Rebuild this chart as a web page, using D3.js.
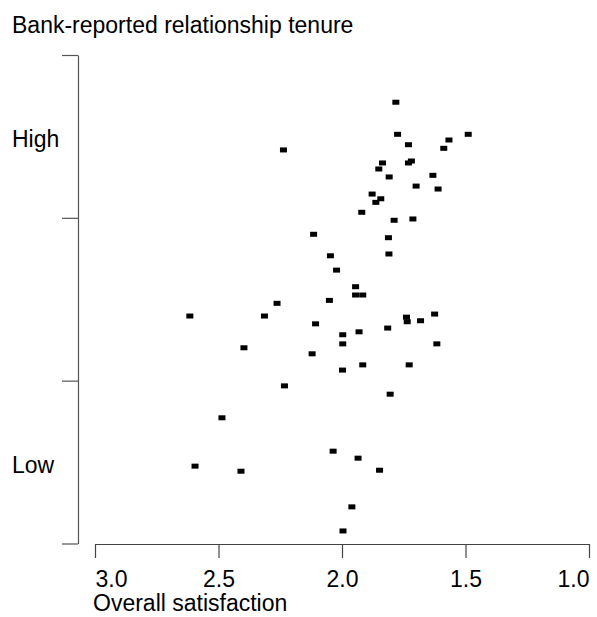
<!DOCTYPE html>
<html>
<head>
<meta charset="utf-8">
<script src="https://cdn.jsdelivr.net/npm/d3@7"></script>
<style>
	body { margin: 0; background: #fff; }
	text { font-family: "Liberation Sans", Arial, Helvetica, sans-serif; }
</style>
</head>
<body>
<div id="scatter"></div>
<script>
/**
 * Nuage de points : satisfaction globale vs anciennete de la relation.
 */

// Overall satisfaction (x) of each client
const satisfaction = [
	1.782, 1.775, 1.731, 1.489, 1.567, 1.588, 1.836, 1.731, 1.719, 1.851,
	1.809, 1.632, 1.700, 1.611, 1.878, 1.843, 1.863, 1.920, 1.789, 1.713,
	1.812, 2.237, 2.115, 2.047, 1.810, 2.022, 1.945, 1.945, 1.916, 2.051,
	2.263, 2.616, 2.314, 1.625, 1.739, 1.736, 1.682, 2.107, 1.815, 1.931,
	1.997, 1.997, 1.616, 2.397, 2.121, 1.916, 1.728, 1.998, 2.233, 1.805,
	2.486, 2.036, 1.935, 2.595, 2.409, 1.848, 1.960, 1.996
];
// Bank-reported relationship tenure (jittered level) of each client
const tenure = [
	2.710, 2.513, 2.449, 2.513, 2.478, 2.427, 2.337, 2.337, 2.349, 2.300,
	2.251, 2.261, 2.195, 2.177, 2.146, 2.117, 2.095, 2.034, 1.985, 1.993,
	1.878, 2.417, 1.899, 1.767, 1.778, 1.679, 1.577, 1.526, 1.526, 1.493,
	1.475, 1.397, 1.397, 1.409, 1.390, 1.362, 1.368, 1.349, 1.323, 1.300,
	1.282, 1.226, 1.226, 1.202, 1.165, 1.097, 1.097, 1.065, 0.968, 0.917,
	0.772, 0.567, 0.524, 0.475, 0.444, 0.450, 0.225, 0.077
];

const xTicks = [3.0, 2.5, 2.0, 1.5, 1.0];
const yTicks = [0, 1, 2, 3];
const levelNames = ["Low", "High"];
const levelValues = [0.5, 2.5];

(function (d3) {
	"use strict";

	const width = 597,
		height = 617;

	const svg = d3.select("#scatter")
		.append("svg")
		.attr("width", width)
		.attr("height", height);

	/*** scales ***/
	var xScale = d3.scaleLinear()
		.domain([3, 1])
		.range([95, 589]);

	var yScale = d3.scaleLinear()
		.domain([0, 3])
		.range([543.5, 55]);

	/*** y axis : range frame, no numbers ***/
	var yAxis = d3.axisLeft(yScale)
		.tickValues(yTicks)
		.tickSize(16)
		.tickSizeOuter(0)
		.tickFormat("");

	var yAxisGroup = svg.append("g")
		.attr("transform", "translate(78,0)")
		.call(yAxis);
	yAxisGroup.selectAll("path, line")
		.attr("stroke", "#555")
		.attr("stroke-width", 1.2);

	svg.selectAll(".level")
		.data(levelNames)
		.enter()
		.append("text")
		.attr("class", "level")
		.attr("x", 12)
		.attr("y", (d, i) => yScale(levelValues[i]) + 11)
		.attr("font-size", 23)
		.attr("fill", "#000")
		.text(d => d);

	/*** x axis ***/
	var xAxis = d3.axisBottom(xScale)
		.tickValues(xTicks)
		.tickSize(14)
		.tickSizeOuter(0)
		.tickPadding(13)
		.tickFormat(d3.format(".1f"));

	var xAxisGroup = svg.append("g")
		.attr("transform", "translate(0,544)")
		.call(xAxis);
	xAxisGroup.selectAll("path, line")
		.attr("stroke", "#444")
		.attr("stroke-width", 1.2);
	xAxisGroup.selectAll("text")
		.attr("font-size", 23)
		.attr("fill", "#000")
		.attr("font-family", "Liberation Sans, Arial, sans-serif")
		// first and last labels stay inside the axis
		.attr("text-anchor", (d, i) => i === 0 ? "start" : (i === xTicks.length - 1 ? "end" : "middle"));

	svg.append("text")
		.attr("x", 93)
		.attr("y", 611)
		.attr("font-size", 23)
		.text("Overall satisfaction");

	svg.append("text")
		.attr("x", 12)
		.attr("y", 33)
		.attr("font-size", 23)
		.text("Bank-reported relationship tenure");

	/*** points ***/
	const pointW = 7,
		pointH = 5;

	svg.append("g")
		.selectAll("rect")
		.data(d3.range(satisfaction.length))
		.enter()
		.append("rect")
		.attr("x", i => xScale(satisfaction[i]) - pointW / 2)
		.attr("y", i => yScale(tenure[i]) - pointH / 2)
		.attr("width", pointW)
		.attr("height", pointH)
		.attr("fill", "#000");

})(d3);
</script>
</body>
</html>
